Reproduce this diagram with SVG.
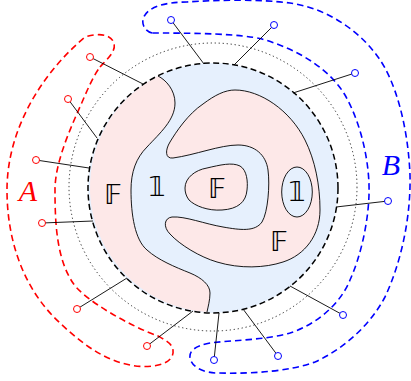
<svg xmlns="http://www.w3.org/2000/svg" width="411" height="381" viewBox="0 0 411 381">
<style>
.pink{fill:#fde8e8;stroke:none}
.blue{fill:#e6f0fd;stroke:none}
.curve{fill:none;stroke:#000;stroke-width:0.9}
.disk{fill:none;stroke:#000;stroke-width:1.5;stroke-dasharray:6 3.5}
.dot{fill:none;stroke:#000;stroke-width:0.8;stroke-dasharray:1.3 2.7}
.band-r{fill:none;stroke:#f00;stroke-width:1.6;stroke-dasharray:6.5 4}
.band-b{fill:none;stroke:#00f;stroke-width:1.6;stroke-dasharray:6.5 4}
.wire{stroke:#000;stroke-width:0.9}
.tr{fill:#fff;stroke:#f00;stroke-width:1}
.tb{fill:#fff;stroke:#00f;stroke-width:1}
.sym{font-family:'DejaVu Sans',sans-serif;font-size:26px;fill:#000;text-anchor:middle}
.lab{font-family:'Liberation Serif',serif;font-style:italic;font-size:30px;text-anchor:middle}
</style>
<g id="regions">
<circle class="blue" cx="213" cy="188" r="125"/>
<path class="pink" d="M158,76 C166,80 175,90 175,103 C175,120 160,133 147,147 C136,158 131,172 131,190 C131,215 135,240 147,250 C158,260 175,267 190,273 C202,278 210,285 210,293 C210,300 208,307 207,312 A125,125 0 0 1 158,76 Z"/>
<path class="curve" d="M158,76 C166,80 175,90 175,103 C175,120 160,133 147,147 C136,158 131,172 131,190 C131,215 135,240 147,250 C158,260 175,267 190,273 C202,278 210,285 210,293 C210,300 208,307 207,312"/>
<path class="pink curve" style="fill:#fde8e8" d="M173,158 C165,159 165,150 170,142 C176,132 188,114 203,104 C215,95 225,90 235,90 C260,90 290,110 305,140 C315,160 320,185 320,210 C320,235 305,255 283,262 C265,268 240,269 217,262 C200,257 180,245 170,234 C163,227 164,218 172,217 C185,216 205,224 223,227 C240,230 255,232 262,222 C268,212 270,185 268,170 C266,155 255,145 238,145 C220,145 195,155 173,158 Z"/>
<path class="curve" style="fill:#fde8e8" d="M185,188 C185,178 195,170 207,168 C220,165 232,162 240,166 C247,170 248,182 247,190 C246,202 238,209 222,210 C208,211 195,206 189,200 C186,196 185,192 185,188 Z"/>
<ellipse class="curve" style="fill:#e6f0fd" cx="297" cy="192" rx="15.3" ry="25"/>
<circle class="disk" cx="213" cy="188" r="125"/>
<circle class="dot" cx="213" cy="187" r="144"/>
</g>
<g id="labels">
<text class="sym" x="113" y="204">𝔽</text>
<text class="sym" x="157" y="196">𝟙</text>
<text class="sym" x="217" y="198">𝔽</text>
<text class="sym" x="297" y="201">𝟙</text>
<text class="sym" x="279" y="251">𝔽</text>
</g>
<g id="bandA">
<path class="band-r" d="M100,67 C108,58 118,50 113,41 C109,34 98,33 85,37 C40,75 7,131 7,190 C7,240 23,289 60,323 C80,342 103,360 130,365 C150,369 175,365 173,350 C172,343 165,340 158,336 C130,326 84,300 73,283 C56,258 55,220 55,190 C55,160 73,123 83,100 C89,86 94,75 100,67 Z"/>
<text class="lab" x="28" y="201" fill="#f00">A</text>
</g>
<g id="bandB">
<path class="band-b" d="M152,33 C144,31 140,22 145,15 C150,7 165,2 187,2 C215,0 260,-1 290,3 C320,7 355,25 378,57 C395,80 408,125 410,175 C411,220 400,265 385,297 C370,325 345,348 315,362 C290,371 255,374 218,373 C205,373 192,368 190,358 C189,350 196,346 210,343 C235,340 265,340 290,333 C315,325 340,305 350,280 C360,258 368,225 369,195 C370,165 362,125 345,95 C330,70 300,50 262,39 C240,34 200,33 152,33 Z"/>
<text class="lab" x="391" y="175" fill="#00f">B</text>
</g>
<g id="connectors">
<line class="wire" x1="143" y1="84" x2="90" y2="57"/>
<line class="wire" x1="97" y1="138" x2="68" y2="99"/>
<line class="wire" x1="89" y1="168" x2="36" y2="160"/>
<line class="wire" x1="93" y1="221" x2="42" y2="223"/>
<line class="wire" x1="127" y1="278" x2="77" y2="309"/>
<line class="wire" x1="193" y1="311" x2="147" y2="346"/>
<line class="wire" x1="204" y1="64" x2="171" y2="20"/>
<line class="wire" x1="234" y1="65" x2="274" y2="25"/>
<line class="wire" x1="293" y1="93" x2="355" y2="73"/>
<line class="wire" x1="336" y1="207" x2="388" y2="201"/>
<line class="wire" x1="290" y1="286" x2="343" y2="315"/>
<line class="wire" x1="243" y1="309" x2="278" y2="356"/>
<line class="wire" x1="219" y1="313" x2="214" y2="360"/>
</g>
<g id="terminals">
<circle class="tr" cx="90" cy="57" r="3.5"/>
<circle class="tr" cx="68" cy="99" r="3.5"/>
<circle class="tr" cx="36" cy="160" r="3.5"/>
<circle class="tr" cx="42" cy="223" r="3.5"/>
<circle class="tr" cx="77" cy="309" r="3.5"/>
<circle class="tr" cx="147" cy="346" r="3.5"/>
<circle class="tb" cx="171" cy="20" r="3.5"/>
<circle class="tb" cx="274" cy="25" r="3.5"/>
<circle class="tb" cx="355" cy="73" r="3.5"/>
<circle class="tb" cx="388" cy="201" r="3.5"/>
<circle class="tb" cx="343" cy="315" r="3.5"/>
<circle class="tb" cx="278" cy="356" r="3.5"/>
<circle class="tb" cx="214" cy="360" r="3.5"/>
</g>
</svg>
